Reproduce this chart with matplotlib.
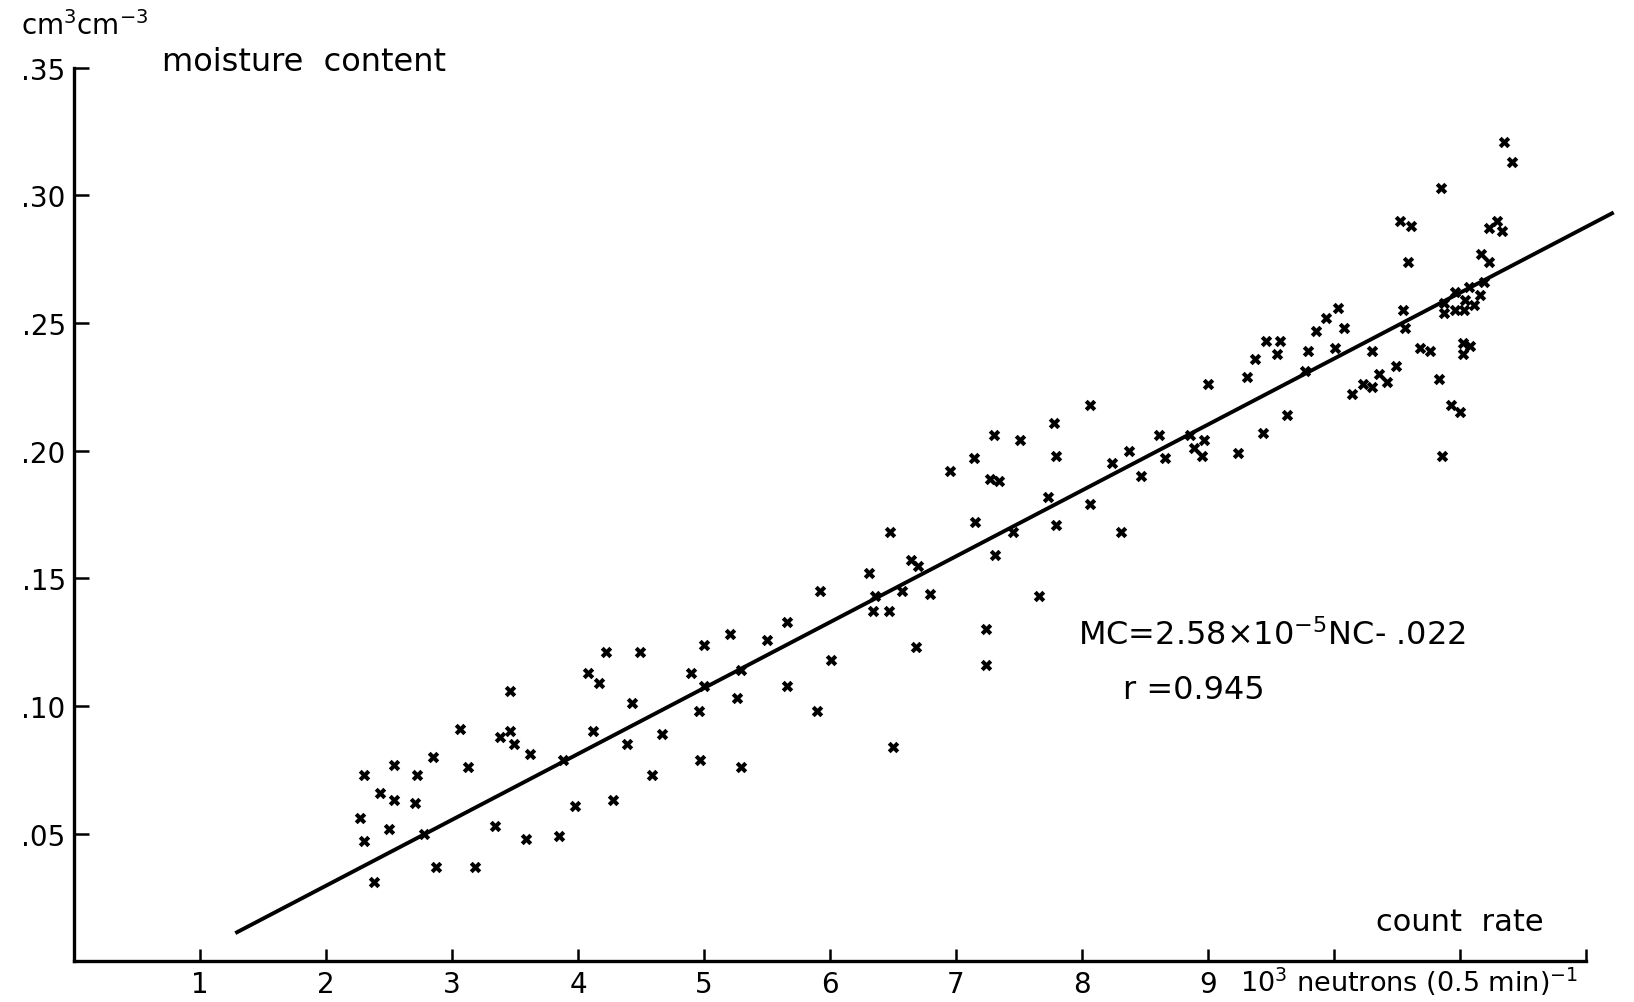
import numpy as np
import matplotlib
matplotlib.use('Agg')
import matplotlib.pyplot as plt

plt.rcParams['font.family'] = ['DejaVu Sans']
plt.rcParams['mathtext.default'] = 'regular'

# count rate (10^3 neutrons per 0.5 min) and moisture content (cm3/cm3)
count_rate = [4.22, 4.08, 4.17, 4.43, 3.46, 3.06, 3.38, 3.46, 3.49, 4.12,
              4.39, 3.62, 3.88, 2.85, 2.54, 2.30, 2.72, 3.13, 2.43, 2.54,
              2.71, 2.27, 2.50, 2.30, 2.78, 2.38, 2.87, 3.18, 3.34, 3.59,
              3.85, 3.98, 4.28, 5.92, 5.66, 6.01, 5.66, 5.90, 5.50, 5.21,
              5.00, 5.29, 4.90, 5.00, 5.26, 4.96, 4.97, 5.29, 4.67, 4.59,
              4.49, 7.51, 7.79, 8.24, 7.14, 6.95, 7.27, 7.34, 7.73, 8.06,
              7.15, 7.79, 7.45, 7.31, 6.48, 6.64, 6.70, 6.31, 6.36, 6.34,
              6.47, 6.57, 6.79, 7.66, 7.24, 7.24, 6.68, 6.50, 7.30, 8.06,
              7.78, 8.31, 8.37, 8.47, 8.61, 8.66, 8.86, 8.89, 8.95, 8.97,
              9.00, 9.24, 9.31, 9.37, 9.44, 9.46, 9.57, 9.55, 9.63, 9.77,
              9.79, 9.86, 9.94, 10.03, 10.08, 10.01, 11.35, 11.41, 10.85, 10.52,
              10.61, 11.23, 11.29, 11.33, 10.59, 11.17, 11.23, 11.19, 10.96, 11.07,
              11.16, 10.87, 10.87, 10.96, 11.04, 11.03, 11.11, 10.55, 10.56, 10.30,
              10.49, 10.36, 10.42, 10.23, 10.30, 10.14, 10.68, 10.76, 11.02, 11.08,
              11.02, 10.83, 10.93, 11.00, 10.86]
moisture = [0.121, 0.113, 0.109, 0.101, 0.106, 0.091, 0.088, 0.090, 0.085, 0.090,
            0.085, 0.081, 0.079, 0.080, 0.077, 0.073, 0.073, 0.076, 0.066, 0.063,
            0.062, 0.056, 0.052, 0.047, 0.050, 0.031, 0.037, 0.037, 0.053, 0.048,
            0.049, 0.061, 0.063, 0.145, 0.133, 0.118, 0.108, 0.098, 0.126, 0.128,
            0.124, 0.114, 0.113, 0.108, 0.103, 0.098, 0.079, 0.076, 0.089, 0.073,
            0.121, 0.204, 0.198, 0.195, 0.197, 0.192, 0.189, 0.188, 0.182, 0.179,
            0.172, 0.171, 0.168, 0.159, 0.168, 0.157, 0.155, 0.152, 0.143, 0.137,
            0.137, 0.145, 0.144, 0.143, 0.130, 0.116, 0.123, 0.084, 0.206, 0.218,
            0.211, 0.168, 0.200, 0.190, 0.206, 0.197, 0.206, 0.201, 0.198, 0.204,
            0.226, 0.199, 0.229, 0.236, 0.207, 0.243, 0.243, 0.238, 0.214, 0.231,
            0.239, 0.247, 0.252, 0.256, 0.248, 0.240, 0.321, 0.313, 0.303, 0.290,
            0.288, 0.287, 0.290, 0.286, 0.274, 0.277, 0.274, 0.266, 0.262, 0.264,
            0.261, 0.258, 0.254, 0.255, 0.259, 0.255, 0.257, 0.255, 0.248, 0.239,
            0.233, 0.230, 0.227, 0.226, 0.225, 0.222, 0.240, 0.239, 0.242, 0.241,
            0.238, 0.228, 0.218, 0.215, 0.198]

# regression MC = 2.58e-5 NC - 0.022  (NC in neutrons, x axis in thousands)
slope = 2.58e-5 * 1000
intercept = -0.022
fit_start, fit_end = 1.28, 12.22

x_ticks = [1, 2, 3, 4, 5, 6, 7, 8, 9, 10, 11, 12]
x_labels = ['1', '2', '3', '4', '5', '6', '7', '8', '9', '', '', '']
y_ticks = [0.05, 0.10, 0.15, 0.20, 0.25, 0.30, 0.35]
y_labels = ['.05', '.10', '.15', '.20', '.25', '.30', '.35']

fig = plt.figure(figsize=(16.34, 10.03), dpi=100)
ax = fig.add_axes([0.0453, 0.0406, 0.9523, 0.891])

ax.scatter(count_rate, moisture, marker='X', s=68, color='black', linewidths=0, zorder=3)

xl = np.array([fit_start, fit_end])
ax.plot(xl, slope * xl + intercept, color='black', lw=2.8, solid_capstyle='butt')

ax.set_xlim(0, 12.35)
ax.set_ylim(0, 0.35)
for s in ['top', 'right']:
    ax.spines[s].set_visible(False)
ax.spines['bottom'].set_bounds(0, 12)
ax.spines['left'].set_bounds(0, 0.35)
ax.spines['bottom'].set_linewidth(2.4)
ax.spines['left'].set_linewidth(2.4)

ax.set_xticks(x_ticks)
ax.set_xticklabels(x_labels)
ax.set_yticks(y_ticks)
ax.set_yticklabels(y_labels)
ax.tick_params(axis='x', direction='in', length=9, width=1.8, labelsize=20, pad=6)
ax.tick_params(axis='y', direction='in', length=11, width=1.8, labelsize=20, pad=6)

fig.text(0.0128, 0.974, r'cm$^3$cm$^{-3}$', fontsize=20, va='center', ha='left')
fig.text(0.0989, 0.9376, 'moisture  content', fontsize=23, va='center', ha='left')
fig.text(0.8418, 0.080, 'count  rate', fontsize=22, va='center', ha='left')
fig.text(0.759, 0.0208, r'10$^3$ neutrons (0.5 min)$^{-1}$', fontsize=19.5, va='center', ha='left')
fig.text(0.660, 0.366, r'MC=2.58$\times$10$^{-5}$NC- .022', fontsize=23, va='center', ha='left')
fig.text(0.687, 0.312, 'r =0.945', fontsize=23, va='center', ha='left')

plt.savefig('out.png', dpi=100)
